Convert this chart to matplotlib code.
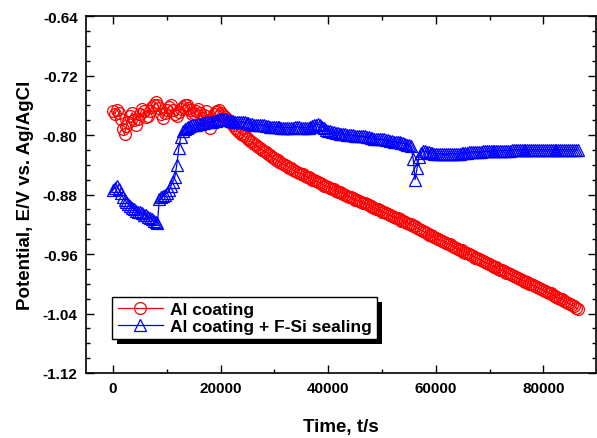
import numpy as np
import matplotlib
matplotlib.use("Agg")
import matplotlib.pyplot as plt
import matplotlib.patches as patches
from matplotlib.ticker import MultipleLocator, FormatStrFormatter

plt.rcParams['font.family'] = ['Liberation Sans', 'DejaVu Sans']
plt.rcParams['font.weight'] = 'bold'

# sampling every 360 s, 0 .. 86400 s
time_s = np.arange(0, 86401, 360)

al_coating = [
    -0.768, -0.772, -0.766, -0.770, -0.779, -0.792, -0.799, -0.788, -0.782, -0.775,
    -0.770, -0.780, -0.786, -0.778, -0.772, -0.765, -0.768, -0.776, -0.775, -0.768,
    -0.763, -0.760, -0.756, -0.759, -0.764, -0.772, -0.777, -0.770, -0.766, -0.762,
    -0.760, -0.767, -0.772, -0.775, -0.769, -0.765, -0.763, -0.760, -0.759, -0.764,
    -0.766, -0.772, -0.770, -0.768, -0.765, -0.771, -0.777, -0.773, -0.768, -0.780,
    -0.790, -0.781, -0.772, -0.769, -0.768, -0.766, -0.770, -0.773, -0.776, -0.778,
    -0.781, -0.784, -0.787, -0.790, -0.793, -0.796, -0.798, -0.800, -0.802, -0.804,
    -0.806, -0.808, -0.810, -0.812, -0.814, -0.816, -0.818, -0.820, -0.822, -0.823,
    -0.825, -0.827, -0.829, -0.831, -0.833, -0.834, -0.836, -0.838, -0.839, -0.841,
    -0.842, -0.844, -0.845, -0.847, -0.848, -0.850, -0.851, -0.852, -0.853, -0.855,
    -0.856, -0.857, -0.858, -0.860, -0.861, -0.862, -0.863, -0.865, -0.866, -0.868,
    -0.869, -0.870, -0.871, -0.872, -0.873, -0.875, -0.876, -0.877, -0.878, -0.879,
    -0.880, -0.882, -0.883, -0.884, -0.885, -0.887, -0.888, -0.889, -0.890, -0.891,
    -0.892, -0.893, -0.894, -0.896, -0.897, -0.898, -0.899, -0.900, -0.901, -0.903,
    -0.904, -0.905, -0.906, -0.908, -0.909, -0.910, -0.911, -0.912, -0.913, -0.915,
    -0.916, -0.917, -0.918, -0.919, -0.920, -0.922, -0.923, -0.925, -0.926, -0.928,
    -0.929, -0.931, -0.932, -0.934, -0.935, -0.936, -0.937, -0.939, -0.940, -0.941,
    -0.942, -0.944, -0.945, -0.946, -0.947, -0.949, -0.950, -0.952, -0.953, -0.954,
    -0.955, -0.957, -0.958, -0.959, -0.960, -0.962, -0.963, -0.965, -0.966, -0.967,
    -0.968, -0.970, -0.971, -0.972, -0.973, -0.975, -0.976, -0.977, -0.978, -0.980,
    -0.981, -0.982, -0.983, -0.985, -0.986, -0.987, -0.988, -0.990, -0.991, -0.992,
    -0.993, -0.995, -0.996, -0.997, -0.998, -1.000, -1.001, -1.002, -1.003, -1.005,
    -1.006, -1.007, -1.008, -1.010, -1.011, -1.012, -1.013, -1.015, -1.016, -1.018,
    -1.019, -1.020, -1.021, -1.023, -1.024, -1.026, -1.027, -1.029, -1.030, -1.032,
    -1.034,
]

al_fsi_sealing = [
    -0.874, -0.871, -0.869, -0.873, -0.878, -0.883, -0.887, -0.890, -0.893, -0.896,
    -0.898, -0.900, -0.902, -0.903, -0.904, -0.905, -0.907, -0.908, -0.910, -0.911,
    -0.913, -0.915, -0.917, -0.918, -0.886, -0.884, -0.882, -0.880, -0.878, -0.874,
    -0.868, -0.863, -0.856, -0.840, -0.818, -0.803, -0.795, -0.792, -0.790, -0.789,
    -0.788, -0.787, -0.786, -0.786, -0.785, -0.785, -0.784, -0.784, -0.783, -0.783,
    -0.782, -0.782, -0.781, -0.781, -0.780, -0.779, -0.778, -0.778, -0.779, -0.780,
    -0.780, -0.781, -0.781, -0.782, -0.782, -0.782, -0.782, -0.783, -0.783, -0.784,
    -0.784, -0.785, -0.785, -0.786, -0.786, -0.786, -0.786, -0.787, -0.787, -0.788,
    -0.788, -0.789, -0.789, -0.789, -0.789, -0.789, -0.789, -0.790, -0.790, -0.790,
    -0.790, -0.790, -0.790, -0.790, -0.789, -0.789, -0.789, -0.790, -0.790, -0.790,
    -0.790, -0.790, -0.789, -0.788, -0.787, -0.786, -0.785, -0.786, -0.789, -0.791,
    -0.793, -0.794, -0.795, -0.796, -0.796, -0.797, -0.797, -0.798, -0.798, -0.799,
    -0.799, -0.800, -0.800, -0.800, -0.800, -0.801, -0.801, -0.802, -0.802, -0.802,
    -0.802, -0.803, -0.803, -0.804, -0.804, -0.805, -0.805, -0.806, -0.806, -0.806,
    -0.806, -0.807, -0.807, -0.808, -0.808, -0.809, -0.809, -0.810, -0.810, -0.811,
    -0.811, -0.812, -0.813, -0.814, -0.815, -0.832, -0.860, -0.845, -0.830, -0.824,
    -0.821, -0.822, -0.823, -0.823, -0.824, -0.824, -0.825, -0.825, -0.825, -0.825,
    -0.826, -0.826, -0.826, -0.826, -0.825, -0.825, -0.825, -0.825, -0.825, -0.825,
    -0.824, -0.824, -0.824, -0.824, -0.823, -0.823, -0.823, -0.823, -0.823, -0.823,
    -0.823, -0.822, -0.822, -0.822, -0.822, -0.822, -0.822, -0.821, -0.821, -0.821,
    -0.821, -0.821, -0.821, -0.821, -0.821, -0.821, -0.820, -0.820, -0.820, -0.820,
    -0.820, -0.820, -0.820, -0.820, -0.820, -0.820, -0.820, -0.820, -0.820, -0.820,
    -0.820, -0.820, -0.820, -0.820, -0.820, -0.820, -0.820, -0.820, -0.820, -0.820,
    -0.820, -0.820, -0.820, -0.820, -0.820, -0.820, -0.820, -0.820, -0.820, -0.820,
    -0.820,
]

labels = ["Al coating", "Al coating + F-Si sealing"]

fig = plt.figure(figsize=(5.97, 4.39), dpi=100)
ax = fig.add_axes([86/597, 1-374/439, (595.5-86)/597, (374-17)/439])

ax.plot(time_s, al_coating, color='red', lw=0.9, marker='o', ms=8.5,
        mfc='none', mec='red', mew=0.9, label=labels[0])
ax.plot(time_s, al_fsi_sealing, color='blue', lw=0.9, marker='^', ms=9,
        mfc='none', mec='blue', mew=0.9, label=labels[1])

ax.set_xlim(-5000, 89700)
ax.set_ylim(-1.12, -0.64)
ax.xaxis.set_major_locator(MultipleLocator(20000))
ax.xaxis.set_minor_locator(MultipleLocator(10000))
ax.yaxis.set_major_locator(MultipleLocator(0.08))
ax.yaxis.set_minor_locator(MultipleLocator(0.02))
ax.yaxis.set_major_formatter(FormatStrFormatter('%.2f'))
ax.tick_params(which='both', direction='in', top=True, right=True, width=1)
ax.tick_params(which='major', length=6, labelsize=11, pad=6)
ax.tick_params(which='minor', length=3)
for sp in ax.spines.values():
    sp.set_linewidth(1.2)
for lab in ax.get_xticklabels() + ax.get_yticklabels():
    lab.set_fontweight('bold')

ax.set_xlabel("Time, t/s", fontsize=13.5, fontweight='bold', labelpad=16)
ax.set_ylabel("Potential, E/V vs. Ag/AgCl", fontsize=13.5, fontweight='bold', labelpad=6.5)

leg = ax.legend(loc='upper left', bbox_to_anchor=(0.052, 0.213), frameon=True,
                fancybox=False, edgecolor='black', framealpha=1,
                prop={'weight': 'bold', 'size': 12.5}, handlelength=2.6,
                borderpad=0.3, labelspacing=0.1, handletextpad=0.4,
                borderaxespad=0)
leg.get_frame().set_linewidth(1.0)
leg.set_zorder(10)

# black drop shadow behind legend
fig.canvas.draw()
bb = leg.get_window_extent().transformed(ax.transAxes.inverted())
dx = 5 / (595.5 - 86)
dy = 5 / (374 - 17)
shadow = patches.Rectangle((bb.x0 + dx, bb.y0 - dy), bb.width, bb.height,
                           transform=ax.transAxes, facecolor='black',
                           edgecolor='none', zorder=9, clip_on=False)
ax.add_patch(shadow)

fig.savefig("out.png", dpi=100)
